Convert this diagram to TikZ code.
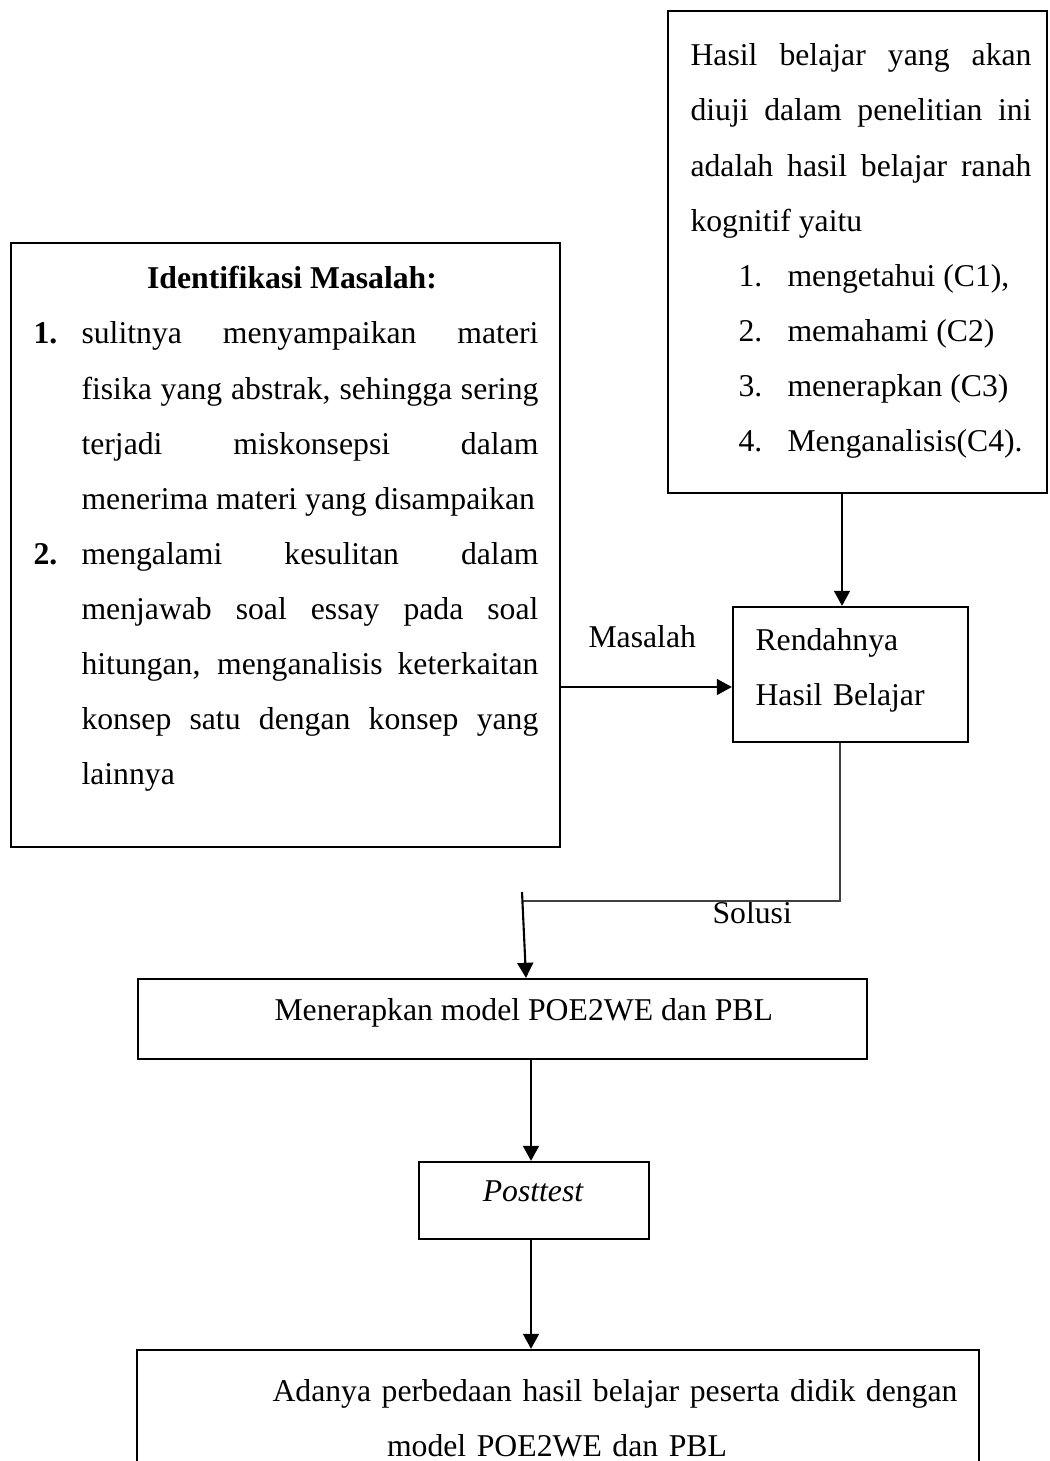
\documentclass[tikz,border=0pt]{standalone}
\usepackage{fontspec}
\setmainfont{Liberation Serif}
\usepackage{tikz}
\usetikzlibrary{arrows.meta,fit}
\newcommand\body{\fontsize{12pt}{20.82pt}\selectfont}
\tikzset{
  box/.style={draw, line width=0.85pt, inner sep=0pt},
  txt/.style={font=\body, inner sep=0pt, anchor=base west},
  para/.style={txt, align=justify},
  arr/.style={-{Triangle[length=5.7pt,width=6pt]}, line width=0.8pt},
  faint/.style={draw=black!75, line width=0.4pt},
}

\begin{document}
\begin{tikzpicture}[x=0.3785pt, y=-0.3785pt]
  \useasboundingbox (0,0) rectangle (1049,1461);
  \clip (0,0) rectangle (1049,1461);

  \node[box, fit={(11,243) (560,847)}] (ident) {};
  \node[box, fit={(668,11) (1047,493)}] (goal) {};
  \node[box, fit={(733,607) (968,742)}] (low) {};
  \node[box, fit={(138,979) (867,1059)}] (apply) {};
  \node[box, fit={(419,1162) (649,1239)}] (post) {};
  \node[box, fit={(137,1350) (979,1480)}] (result) {};

  \node[txt, anchor=base, font=\body\bfseries] (idtitle) at (292,289) {Identifikasi Masalah:};
  \node[para, text width=191.1pt] (idlist) at (33,344) {%
    \tolerance=10000 \hbadness=10000 \leftskip=18.17pt
    \noindent\llap{\makebox[18.17pt][l]{\textbf{1.}}}sulitnya menyampaikan materi\linebreak
    fisika yang abstrak, sehingga sering\linebreak
    terjadi miskonsepsi dalam\linebreak
    menerima materi yang disampaikan\par
    \noindent\llap{\makebox[18.17pt][l]{\textbf{2.}}}mengalami kesulitan dalam\linebreak
    menjawab soal essay pada soal\linebreak
    hitungan, menganalisis keterkaitan\linebreak
    konsep satu dengan konsep yang\linebreak
    lainnya\par};

  \node[para, text width=129.07pt] (goaltext) at (690,66) {%
    \tolerance=10000 \hbadness=10000
    Hasil belajar yang akan\linebreak
    diuji dalam penelitian ini\linebreak
    adalah hasil belajar ranah\linebreak
    kognitif yaitu\par
    \leftskip=36.71pt
    \noindent\llap{\makebox[18.55pt][l]{1.}}mengetahui (C1),\par
    \noindent\llap{\makebox[18.55pt][l]{2.}}memahami (C2)\par
    \noindent\llap{\makebox[18.55pt][l]{3.}}menerapkan (C3)\par
    \noindent\llap{\makebox[18.55pt][l]{4.}}Menganalisis(C4).\par};

  \node[txt, text width=80pt, align=left] (lowtext) at (755,650) {Rendahnya\\Hasil Belajar};
  \node[txt] (masalahlbl) at (588,647) {Masalah};
  \node[txt] (solusilbl) at (712,923) {Solusi};
  \node[txt] (applytext) at (274,1020) {Menerapkan model POE2WE dan PBL};
  \node[txt, anchor=base, font=\body\itshape] (posttext) at (533,1201) {Posttest};
  \node[txt, anchor=base, text width=317.9pt, align=center] (resulttext) at (557,1401)
    {\hspace*{43.9pt}Adanya perbedaan hasil belajar peserta didik dengan\\model POE2WE dan PBL};

  \coordinate (upx) at (842,0);
  \coordinate (my) at (0,687);
  \coordinate (bend) at (840,901);
  \coordinate (drop) at (522,892);
  \coordinate (dropend) at (526,0);
  \coordinate (spine) at (531,0);

  \draw[arr] (goal.south -| upx) -- (low.north -| upx);
  \draw[arr] (ident.east |- my) -- (low.west |- my);
  \draw[faint] (low.south -| bend) -- (bend) -- (drop |- bend);
  \draw[arr] (drop) -- (apply.north -| dropend);
  \draw[arr] (apply.south -| spine) -- (post.north -| spine);
  \draw[arr] (post.south -| spine) -- (result.north -| spine);
\end{tikzpicture}
\end{document}
